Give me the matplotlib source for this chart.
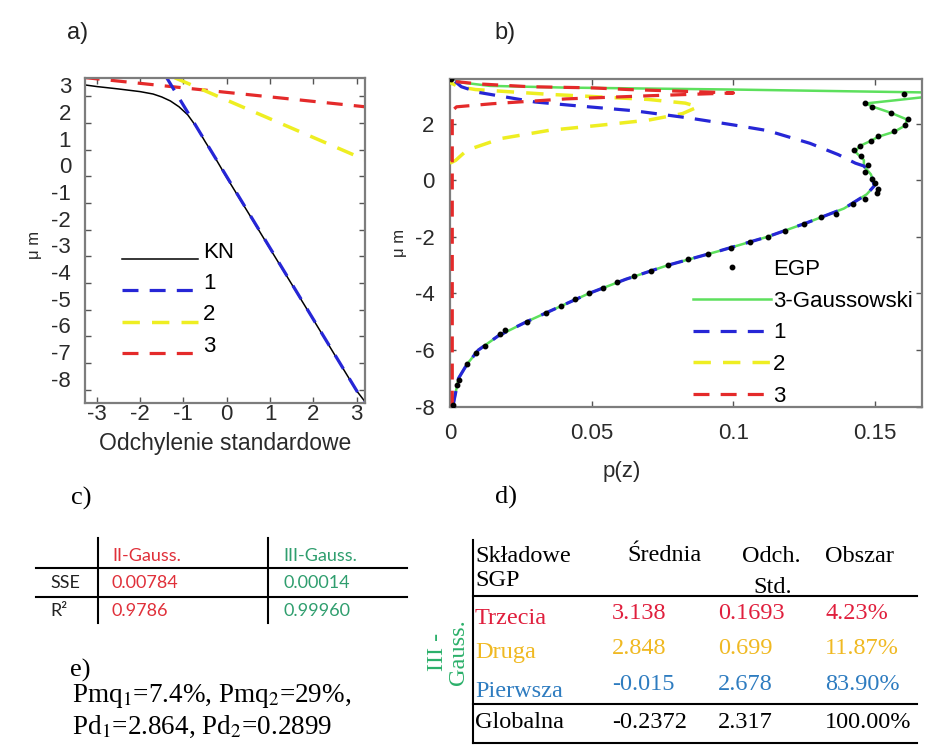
import matplotlib
matplotlib.use("Agg")
import matplotlib.pyplot as plt
from matplotlib.transforms import ScaledTranslation

plt.rcParams['font.family'] = ['Liberation Sans', 'DejaVu Sans']
plt.rcParams['mathtext.fontset'] = 'stix'
plt.rcParams['axes.unicode_minus'] = False

# ---------------- data: panel a (normal quantile plot) ----------------
kn_x = [-3.27, -3.0, -2.5, -2.0, -1.7, -1.5, -1.3, -1.1, -0.9, -0.7, -0.5, -0.3,
        0.0, 0.5, 1.0, 1.5, 2.0, 2.5, 3.0, 3.19]
kn_y = [3.42, 3.36, 3.27, 3.17, 3.08, 2.97, 2.82, 2.6, 2.3, 1.85, 1.3, 0.78,
        -0.05, -1.38, -2.72, -4.05, -5.38, -6.72, -8.05, -8.45]
a1_x = [-1.40, 3.20]
a1_y = [3.73, -8.58]
a2_x = [-1.20, 3.20]
a2_y = [3.69, 0.61]
a3_x = [-3.30, 3.20]
a3_y = [3.70, 2.60]
a_xticks = [-3, -2, -1, 0, 1, 2, 3]
a_yticks = [3, 2, 1, 0, -1, -2, -3, -4, -5, -6, -7, -8]

# ---------------- data: panel b (density profiles) ----------------
egp_z = [-7.95, -7.25, -7.05, -6.5, -6.1, -5.85, -5.45, -5.3, -5.0, -4.7, -4.45, -4.2,
         -4.0, -3.8, -3.6, -3.4, -3.2, -3.0, -2.8, -2.6, -2.4, -2.2, -2.0, -1.8,
         -1.55, -1.3, -1.2, -0.85, -0.65, -0.45, -0.3, -0.1, 0.05, 0.3, 0.55, 0.85,
         1.05, 1.2, 1.4, 1.55, 1.72, 1.95, 2.15, 2.38, 2.6, 2.73, 3.06, 3.57]
egp_p = [0.0012, 0.0025, 0.003, 0.006, 0.009, 0.0125, 0.0175, 0.0195, 0.027, 0.034, 0.039, 0.044,
         0.049, 0.054, 0.059, 0.065, 0.071, 0.077, 0.084, 0.091, 0.099, 0.106, 0.112, 0.118,
         0.125, 0.131, 0.136, 0.142, 0.1465, 0.1505, 0.151, 0.150, 0.149, 0.1465, 0.1475, 0.145,
         0.1425, 0.1445, 0.1485, 0.151, 0.1565, 0.1605, 0.1615, 0.1555, 0.149, 0.1465, 0.160, 0.0003]

g_z = [-8.0, -7.5, -7.0, -6.5, -6.0, -5.5, -5.0, -4.5, -4.0, -3.5, -3.0, -2.5, -2.0, -1.5,
       -1.0, -0.5, -0.2, 0.2, 0.5, 0.71, 1.0, 1.2, 1.39, 1.53, 1.71, 1.94, 2.15, 2.38, 2.6,
       2.71, 2.82, 2.93, 3.0, 3.06, 3.1, 3.2, 3.27, 3.33, 3.45, 3.6]
g_p = [0.001, 0.002, 0.003, 0.006, 0.010, 0.017, 0.027, 0.038, 0.049, 0.062, 0.077, 0.095,
       0.112, 0.126, 0.139, 0.147, 0.1497, 0.1485, 0.146, 0.146, 0.143, 0.1444, 0.1485, 0.151,
       0.1567, 0.1608, 0.161, 0.1555, 0.149, 0.1467, 0.157, 0.167, 0.20, 0.20, 0.166, 0.10,
       0.04, 0.014, 0.004, 0.001]

b1_z = [-8.0, -7.5, -7.0, -6.5, -6.0, -5.5, -5.0, -4.5, -4.0, -3.5, -3.0, -2.5, -2.0, -1.5,
        -1.0, -0.5, -0.2, 0.2, 0.5, 0.6, 0.9, 1.3, 1.75, 1.95, 2.2, 2.45, 2.65, 2.76, 2.93,
        3.1, 3.3, 3.55]
b1_p = [0.001, 0.002, 0.003, 0.006, 0.010, 0.017, 0.027, 0.038, 0.049, 0.062, 0.077, 0.095,
        0.112, 0.126, 0.139, 0.147, 0.1497, 0.1485, 0.146, 0.143, 0.137, 0.127, 0.112, 0.100,
        0.084, 0.065, 0.042, 0.030, 0.020, 0.010, 0.004, 0.001]

b2_z = [0.6, 0.7, 1.06, 1.47, 1.76, 1.94, 2.12, 2.35, 2.59, 2.72, 2.85, 2.97, 3.03, 3.2, 3.3, 3.45]
b2_p = [0.0, 0.002, 0.006, 0.018, 0.035, 0.053, 0.070, 0.082, 0.0875, 0.083, 0.070, 0.047,
        0.035, 0.009, 0.003, 0.0]

b3_z = [-8.0, 2.45, 2.59, 2.7, 2.87, 2.98, 3.08, 3.13, 3.2, 3.26, 3.3, 3.4, 3.48]
b3_p = [0.0008, 0.0008, 0.0023, 0.015, 0.041, 0.070, 0.100, 0.085, 0.063, 0.050, 0.028, 0.010, 0.002]

b_xticks = [0, 0.05, 0.1, 0.15]
b_xticklabels = ['0', '0.05', '0.1', '0.15']
b_yticks = [2, 0, -2, -4, -6, -8]

# ---------------- data: tables ----------------
c_cols = ['II-Gauss.', 'III-Gauss.']
c_rows = ['SSE', 'R²']
c_vals = [['0.00784', '0.00014'], ['0.9786', '0.99960']]

d_rows = ['Trzecia', 'Druga', 'Pierwsza']
d_mean = ['3.138', '2.848', '-0.015']
d_std = ['0.1693', '0.699', '2.678']
d_area = ['4.23%', '11.87%', '83.90%']
d_global = ['Globalna', '-0.2372', '2.317', '100.00%']

e_line1 = 'Pmq$_1$=7.4%, Pmq$_2$=29%,'
e_line2 = 'Pd$_1$=2.864, Pd$_2$=0.2899'

# ---------------- styles ----------------
BLUE = '#2626d6'
YEL = '#eeee22'
RED = '#e42a2a'
GRN = '#5de05d'
DASH = (5, 3.5)
TXT = '#2a2a2a'

W, H = 925, 746
fig = plt.figure(figsize=(W / 100, H / 100), dpi=100)


def box(l, t, r, b):
    return [l / W, 1 - b / H, (r - l) / W, (b - t) / H]


axA = fig.add_axes(box(85, 78, 365, 403))
axB = fig.add_axes(box(450, 78.5, 922, 406.7))

for ax in (axA, axB):
    for s in ax.spines.values():
        s.set_color('#7d7d7d')
        s.set_linewidth(1.6)
    ax.tick_params(direction='in', top=True, right=True, length=4, width=1.0,
                   color='#555555', labelsize=16, labelcolor=TXT)

# ---- panel a
hKN, = axA.plot(kn_x, kn_y, color='black', lw=1.1)
h3a, = axA.plot(a3_x, a3_y, color=RED, lw=2.3, dashes=DASH)
h2a, = axA.plot(a2_x, a2_y, color=YEL, lw=2.5, dashes=DASH)
h1a, = axA.plot(a1_x, a1_y, color=BLUE, lw=2.3, dashes=DASH)
axA.set_xlim(-3.27, 3.19)
axA.set_ylim(-8.5, 3.68)
axA.set_xticks(a_xticks)
axA.set_yticks(a_yticks)
axA.tick_params(axis='x', pad=1)
axA.tick_params(axis='y', pad=10)
off = ScaledTranslation(0, 0.11, fig.dpi_scale_trans)
for lab in axA.get_yticklabels():
    lab.set_transform(lab.get_transform() + off)
axA.set_xlabel('Odchylenie standardowe', fontsize=16.5, color=TXT)
axA.xaxis.set_label_coords(0.5, -0.088)
axA.set_ylabel('μ m', fontsize=12, color=TXT)
axA.yaxis.set_label_coords(-0.154, 0.486)
la = axA.legend([hKN, h1a, h2a, h3a], ['KN', '1', '2', '3'], loc='upper left',
                bbox_to_anchor=((122 - 85) / 280, (403 - 251) / 325), frameon=False,
                fontsize=16, handlelength=3.4, handletextpad=0.25, labelspacing=0.46,
                borderpad=0, borderaxespad=0)
for t in la.get_texts():
    t.set_y(9)

# ---- panel b
hG, = axB.plot(g_p, g_z, color=GRN, lw=1.8, zorder=2)
h2b, = axB.plot(b2_p, b2_z, color=YEL, lw=2.5, dashes=DASH, zorder=3)
h3b, = axB.plot(b3_p, b3_z, color=RED, lw=2.3, dashes=DASH, zorder=3.5)
h1b, = axB.plot(b1_p, b1_z, color=BLUE, lw=2.3, dashes=DASH, zorder=3)
hE, = axB.plot(egp_p, egp_z, ls='none', marker='o', ms=3.2, color='black', zorder=4)
axB.set_xlim(0, 0.1665)
axB.set_ylim(-8.0, 3.59)
axB.set_xticks(b_xticks)
axB.set_xticklabels(b_xticklabels)
axB.set_yticks(b_yticks)
axB.tick_params(axis='x', pad=12)
axB.tick_params(axis='y', pad=11)
axB.set_xlabel('p(z)', fontsize=16, color=TXT)
axB.xaxis.set_label_coords(0.364, -0.165)
axB.set_ylabel('μ m', fontsize=12, color=TXT)
axB.yaxis.set_label_coords(-0.091, 0.499)
lb = axB.legend([hE, hG, h1b, h2b, h3b], ['EGP', '3-Gaussowski', '1', '2', '3'],
                loc='upper left', bbox_to_anchor=((693 - 450) / 472, (406.7 - 259) / 328.2),
                frameon=False, fontsize=16, handlelength=3.5, handletextpad=0.1,
                labelspacing=0.48, borderpad=0, borderaxespad=0, numpoints=1)
lb.set_zorder(6)

# ---------------- overlay for tables and labels ----------------
ov = fig.add_axes([0, 0, 1, 1])
ov.set_xlim(0, W)
ov.set_ylim(H, 0)
ov.set_axis_off()

SANS = ['Liberation Sans', 'DejaVu Sans']
SERIF = ['Liberation Serif', 'DejaVu Serif']
CAL = ['Lato', 'DejaVu Sans']

ov.text(78, 33, 'a)', fontsize=17, family=SANS, ha='center', va='center', color='#222222')
ov.text(505, 33, 'b)', fontsize=17, family=SANS, ha='center', va='center', color='#222222')
ov.text(81, 498, 'c)', fontsize=19, family=SERIF, ha='center', va='center')
ov.text(506, 497, 'd)', fontsize=19, family=SERIF, ha='center', va='center')
ov.text(80, 670, 'e)', fontsize=19, family=SERIF, ha='center', va='center')

# table c
CRED = '#e0303a'
CGRN = '#2f9e6e'
ov.plot([36, 407], [568.3, 568.3], color='black', lw=1.5)
ov.plot([36, 407], [596.7, 596.7], color='black', lw=1.5)
ov.plot([98.3, 98.3], [538, 623], color='black', lw=1.5)
ov.plot([268.3, 268.3], [538, 623], color='black', lw=1.5)
c_colx = [112, 283]
c_colors = [CRED, CGRN]
for j, name in enumerate(c_cols):
    ov.text(c_colx[j], 556, name, fontsize=13, family=CAL, color=c_colors[j], va='center')
c_rowy = [583, 611]
for i, rname in enumerate(c_rows):
    ov.text(50, c_rowy[i], rname, fontsize=13, family=CAL, color='#222222', va='center')
    for j in range(2):
        ov.text(c_colx[j], c_rowy[i], c_vals[i][j], fontsize=13, family=CAL,
                color=c_colors[j], va='center')

# table d
DRED = '#e01f3d'
DGOLD = '#f0b922'
DBLUE = '#2e7cc0'
DGRN = '#2bb06a'
FS = 17.5
ov.plot([473.3, 473.3], [540, 743], color='black', lw=1.5)
for yy in (596, 704, 743):
    ov.plot([473.3, 917], [yy, yy], color='black', lw=1.5)
ov.text(475, 562, 'Składowe', fontsize=FS, family=SERIF, va='baseline')
ov.text(475, 586, 'SGP', fontsize=FS, family=SERIF, va='baseline')
ov.text(627, 561, 'Średnia', fontsize=FS, family=SERIF, va='baseline')
ov.text(742, 562, 'Odch.', fontsize=FS, family=SERIF, va='baseline')
ov.text(753, 593, 'Std.', fontsize=FS, family=SERIF, va='baseline')
ov.text(825, 562, 'Obszar', fontsize=FS, family=SERIF, va='baseline')
row_y = [624, 658, 697]
val_y = [619, 654, 690]
row_c = [DRED, DGOLD, DBLUE]
for i in range(3):
    ov.text(475, row_y[i], d_rows[i], fontsize=FS, family=SERIF, color=row_c[i], va='baseline')
    ov.text(612, val_y[i], d_mean[i], fontsize=FS, family=SERIF, color=row_c[i], va='baseline')
    ov.text(718, val_y[i], d_std[i], fontsize=FS, family=SERIF, color=row_c[i], va='baseline')
    ov.text(825, val_y[i], d_area[i], fontsize=FS, family=SERIF, color=row_c[i], va='baseline')
for x, s in zip([475, 612, 718, 825], d_global):
    ov.text(x, 728, s, fontsize=FS, family=SERIF, va='baseline')
ov.text(448, 652, 'III -\nGauss.', fontsize=FS, family=SERIF, color=DGRN, rotation=90,
        ha='center', va='center', linespacing=1.0, multialignment='center')

# e)
ov.text(72, 696, e_line1, fontsize=19.5, family=SERIF, va='center')
ov.text(72, 727, e_line2, fontsize=19.5, family=SERIF, va='center')

fig.savefig('out.png', dpi=100)
